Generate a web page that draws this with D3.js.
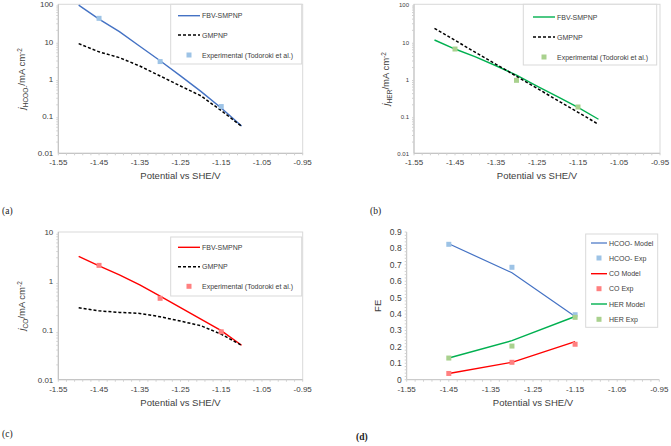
<!DOCTYPE html>
<html><head><meta charset="utf-8">
<script src="https://cdn.jsdelivr.net/npm/d3@7"></script>
<style>body{margin:0;background:#fff}svg{display:block;font-family:"Liberation Sans",Arial,sans-serif}</style>
</head><body>
<svg id="c" width="671" height="446"></svg>
<script>
// ---- data ----
const xTicks = [-1.55,-1.45,-1.35,-1.25,-1.15,-1.05,-0.95];
const modelX = [-1.50,-1.45,-1.40,-1.35,-1.30,-1.25,-1.20,-1.15,-1.10];
const expX = [-1.45,-1.30,-1.15];

const hcooFBV = [95,40,18.4,7.5,3.06,1.2,0.46,0.165,0.054];
const hcooGMP = [8.8,5.3,3.7,2.2,1.19,0.64,0.35,0.14,0.053];
const hcooExp = [42,2.9,0.18];

const herFBV = [11,6.3,3.9,2.24,1.26,0.64,0.33,0.17,0.082];
const herGMP = [22.7,10.8,5.1,2.45,1.17,0.555,0.264,0.126,0.06];
const herExp = [6.3,0.91,0.175];

const coFBV = [3.19,2.05,1.35,0.84,0.50,0.29,0.17,0.099,0.05];
const coGMP = [0.29,0.25,0.233,0.222,0.19,0.155,0.125,0.084,0.05];
const coExp = [2.1,0.45,0.094];

const feX = [-1.45,-1.30,-1.15];
const feHcooModel = [0.828,0.652,0.385];
const feHcooExp = [0.825,0.685,0.396];
const feCoModel = [0.038,0.106,0.232];
const feCoExp = [0.038,0.106,0.216];
const feHerModel = [0.132,0.238,0.385];
const feHerExp = [0.132,0.205,0.38];

const logTicksA = [0.01,0.1,1,10,100];
const logTicksC = [0.01,0.1,1,10];
const feTicks = [0,0.1,0.2,0.3,0.4,0.5,0.6,0.7,0.8,0.9];

const BLUE="#4472C4", BLUE_M="#9DC3E6", GREEN="#00B050", GREEN_M="#A9D18E", RED="#FF0000", RED_M="#FF8080";
const svg = d3.select("#c");
const GRID="#d9d9d9";

function panel(o){
  const g = svg.append("g");
  const x = d3.scaleLinear().domain([-1.55,-0.95]).range([o.x0,o.x1]);
  const y = (o.log? d3.scaleLog(): d3.scaleLinear()).domain(o.yDomain).range([o.y1,o.y0]);
  g.append("rect").attr("x",o.x0).attr("y",o.y0).attr("width",o.x1-o.x0).attr("height",o.y1-o.y0)
    .attr("fill","none").attr("stroke",o.frame?GRID:"none");
  g.append("line").attr("x1",o.x0).attr("x2",o.x0).attr("y1",o.y0).attr("y2",o.y1).attr("stroke","#bfbfbf");
  g.append("line").attr("x1",o.x0).attr("x2",o.x1).attr("y1",o.y1).attr("y2",o.y1).attr("stroke","#bfbfbf");
  let minors=[];
  if(o.log){
    const [lo,hi]=o.yDomain;
    for(let d=lo; d<hi; d*=10) for(let k=2;k<=9;k++) minors.push(d*k);
  } else {
    for(let v=0; v<=0.9001; v+=0.02) minors.push(v);
  }
  g.selectAll(null).data(minors).enter().append("line")
    .attr("x1",o.x0-2).attr("x2",o.x0).attr("y1",d=>y(d)).attr("y2",d=>y(d)).attr("stroke","#d0d0d0");
  const xm=d3.range(0,31).map(i=>-1.55+i*0.02);
  g.selectAll(null).data(xm).enter().append("line")
    .attr("x1",d=>x(d)).attr("x2",d=>x(d)).attr("y1",o.y1).attr("y2",o.y1+2).attr("stroke","#d0d0d0");
  g.selectAll(null).data(xTicks).enter().append("text")
    .attr("x",d=>x(d)).attr("y",o.y1+12).attr("text-anchor","middle")
    .attr("font-size",o.xfs||8).attr("fill","#404040").text(d=>d.toFixed(2));
  g.selectAll(null).data(o.yTicks).enter().append("text")
    .attr("x",o.x0-5).attr("y",d=>y(d)+3).attr("text-anchor","end")
    .attr("font-size",o.yfs||8).attr("fill","#404040").text(o.yFmt);
  g.append("text").attr("x",(o.x0+o.x1)/2+o.xtDx).attr("y",o.y1+26).attr("text-anchor","middle")
    .attr("font-size",9.5).attr("fill","#404040").text("Potential vs SHE/V");
  const yt=g.append("text").attr("transform",`translate(${o.ytX},${(o.y0+o.y1)/2}) rotate(-90)`)
    .attr("text-anchor","middle").attr("font-size",9.5).attr("fill","#404040");
  o.yTitle(yt);
  const line=d3.line().x(d=>x(d[0])).y(d=>y(d[1]));
  o.series.forEach(s=>{
    if(s.type==="line"){
      g.append("path").datum(d3.zip(s.xs,s.ys)).attr("d",line).attr("fill","none")
        .attr("stroke",s.color).attr("stroke-width",s.w||1.4).attr("stroke-dasharray",s.dash||null);
    } else {
      g.selectAll(null).data(d3.zip(s.xs,s.ys)).enter().append("rect")
        .attr("x",d=>x(d[0])-2.5).attr("y",d=>y(d[1])-2.5).attr("width",5).attr("height",5).attr("fill",s.color);
    }
  });
  const L=o.legend;
  g.append("rect").attr("x",L.x0).attr("y",L.y0).attr("width",L.x1-L.x0).attr("height",L.y1-L.y0)
    .attr("fill","#fff").attr("stroke",GRID);
  L.items.forEach((it,i)=>{
    const yy=L.ys[i];
    const s=o.series[it];
    if(s.type==="line"){
      g.append("line").attr("x1",L.lx0).attr("x2",L.lx1).attr("y1",yy).attr("y2",yy)
        .attr("stroke",s.color).attr("stroke-width",s.w||1.4).attr("stroke-dasharray",s.dash||null);
    } else {
      g.append("rect").attr("x",(L.lx0+L.lx1)/2-2.5).attr("y",yy-2.5).attr("width",5).attr("height",5).attr("fill",s.color);
    }
    g.append("text").attr("x",L.lx1+2).attr("y",yy+2.5).attr("font-size",L.fs).attr("fill","#404040").text(s.name);
  });
}

function jTitle(sub){
  return t=>{
    t.append("tspan").attr("font-style","italic").text("j");
    t.append("tspan").attr("font-size",6.5).attr("dy",2.5).text(sub);
    t.append("tspan").attr("dy",-2.5).text("/mA cm");
    t.append("tspan").attr("font-size",6.5).attr("dy",-3.5).text("-2");
  };
}
const logFmt=d=>String(d);

panel({x0:58.3,x1:302.7,y0:4.3,y1:153.3,log:true,yDomain:[0.01,100],yTicks:logTicksA,yFmt:logFmt,frame:true,
  ytX:25,xtDx:0,yTitle:jTitle("HCOO-"),
  series:[
    {type:"line",name:"FBV-SMPNP",xs:modelX,ys:hcooFBV,color:BLUE},
    {type:"line",name:"GMPNP",xs:modelX,ys:hcooGMP,color:"#000",dash:"3,2",w:1.5},
    {type:"pt",name:"Experimental (Todoroki et al.)",xs:expX,ys:hcooExp,color:BLUE_M}],
  legend:{x0:170.7,x1:301.7,y0:4.3,y1:64,lx0:178,lx1:200,ys:[15.7,35,55],items:[0,1,2],fs:7}});

panel({x0:414,x1:660,y0:4.3,y1:153.3,log:true,yDomain:[0.01,100],yTicks:logTicksA,yFmt:logFmt,frame:true,yfs:6,
  ytX:389,xtDx:0,yTitle:jTitle("HER"),
  series:[
    {type:"line",name:"FBV-SMPNP",xs:modelX,ys:herFBV,color:GREEN},
    {type:"line",name:"GMPNP",xs:modelX,ys:herGMP,color:"#000",dash:"3,2",w:1.5},
    {type:"pt",name:"Experimental (Todoroki et al.)",xs:expX,ys:herExp,color:GREEN_M}],
  legend:{x0:523.3,x1:656.7,y0:4.3,y1:65,lx0:533,lx1:555,ys:[17,37,57],items:[0,1,2],fs:7}});

panel({x0:58.3,x1:302.7,y0:232,y1:379.7,log:true,yDomain:[0.01,10],yTicks:logTicksC,yFmt:logFmt,frame:true,
  ytX:25,xtDx:0,yTitle:jTitle("CO"),
  series:[
    {type:"line",name:"FBV-SMPNP",xs:modelX,ys:coFBV,color:RED},
    {type:"line",name:"GMPNP",xs:modelX,ys:coGMP,color:"#000",dash:"3,2",w:1.5},
    {type:"pt",name:"Experimental (Todoroki et al.)",xs:expX,ys:coExp,color:RED_M}],
  legend:{x0:170.7,x1:301.7,y0:237,y1:296,lx0:178,lx1:200,ys:[247.3,266.7,286.3],items:[0,1,2],fs:7}});

panel({x0:406.7,x1:659.3,y0:232,y1:379.7,log:false,yDomain:[0,0.9],yTicks:feTicks,yFmt:d=>d===0?"0":d.toFixed(1),frame:false,yfs:8.5,
  ytX:381,xtDx:0,yTitle:t=>t.text("FE"),
  series:[
    {type:"line",name:"HCOO- Model",xs:feX,ys:feHcooModel,color:BLUE,w:1.2},
    {type:"pt",name:"HCOO- Exp",xs:feX,ys:feHcooExp,color:BLUE_M},
    {type:"line",name:"CO Model",xs:feX,ys:feCoModel,color:RED},
    {type:"pt",name:"CO Exp",xs:feX,ys:feCoExp,color:RED_M},
    {type:"line",name:"HER Model",xs:feX,ys:feHerModel,color:GREEN},
    {type:"pt",name:"HER Exp",xs:feX,ys:feHerExp,color:GREEN_M}],
  legend:{x0:585.7,x1:657.7,y0:234,y1:327.3,lx0:591,lx1:607,ys:[243,258,273.7,288.7,304,319.3],items:[0,1,2,3,4,5],fs:7}});

const lab=[["(a)",2,214,"normal"],["(b)",370,214,"normal"],["(c)",2,437,"normal"],["(d)",356,440,"bold"]];
svg.selectAll(null).data(lab).enter().append("text").attr("x",d=>d[1]).attr("y",d=>d[2])
  .attr("font-family","'Liberation Serif','DejaVu Serif',serif").attr("font-size",9.5).attr("font-weight",d=>d[3]).attr("fill","#222").text(d=>d[0]);
</script>
</body></html>
